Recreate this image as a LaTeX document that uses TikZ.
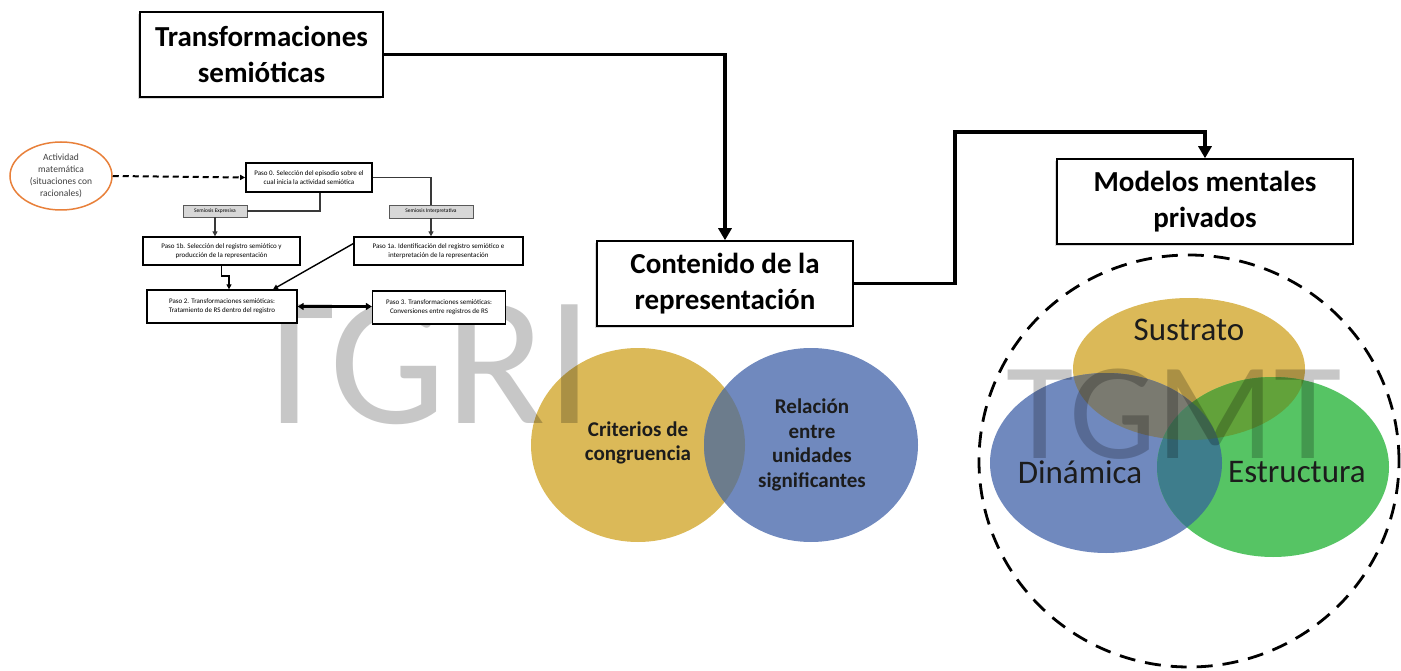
\documentclass[tikz,border=0pt]{standalone}
\usepackage{fontspec}
\setmainfont{Carlito}
\usetikzlibrary{arrows.meta,shapes.geometric,shadows}
\definecolor{lcyel}{RGB}{219,185,88}
\definecolor{lcblu}{RGB}{112,137,190}
\definecolor{lcgrn}{RGB}{86,196,100}
\definecolor{lcyb}{RGB}{108,124,140}
\definecolor{lcsd}{RGB}{122,122,112}
\definecolor{lcse}{RGB}{98,162,58}
\definecolor{lcde}{RGB}{62,125,140}
\definecolor{lcsde}{RGB}{78,128,96}
\definecolor{lcorange}{RGB}{232,128,58}
\definecolor{lcsemi}{RGB}{215,215,215}
\definecolor{lctext}{RGB}{28,28,28}
\newcommand\boxfont{\bfseries\fontsize{29pt}{36pt}\selectfont}
\newcommand\pasofont{\fontsize{7pt}{9pt}\selectfont}
\newcommand\semifont{\fontsize{5.5pt}{6pt}\selectfont}
\newcommand\actfont{\fontsize{9.5pt}{12pt}\selectfont}
\newcommand\venfont{\bfseries\fontsize{21pt}{24.5pt}\selectfont}
\newcommand\mmfont{\fontsize{33pt}{36pt}\selectfont}

\begin{document}
\begin{tikzpicture}[%
    x=1pt, y=-1pt,                        % pixel grid, top-down
    >={Triangle[length=12pt,width=13pt]}  % big arrow heads
    ]
\tikzset{
  base/.style={draw, align=center, inner sep=1pt},
  mbox/.style={base, fill=white, line width=1.5pt, minimum height=85pt,
    font=\boxfont, drop shadow={shadow xshift=-2pt, shadow yshift=-2pt, opacity=.3}},
  pbox/.style={base, fill=white, line width=1.3pt, font=\pasofont},
  sbox/.style={base, fill=lcsemi, draw=gray!70!black, line width=.7pt, font=\semifont},
  act/.style={ellipse, draw=lcorange, line width=1.5pt, fill=white, inner sep=0pt,
    minimum width=102pt, minimum height=68pt, align=center, font=\actfont, text=black!75},
  % -------------------------------------------------
  link/.style={draw, ->, line width=3.4pt},
  thin/.style={draw, gray!45!black, line width=1.1pt},
  small/.style={-{Triangle[length=5pt,width=5pt]}},
  venlbl/.style={align=center, font=\venfont, text=lctext},
  mmlbl/.style={font=\mmfont, text=lctext},
  wmark/.style={anchor=base west, inner sep=0pt, text=black, text opacity=.22}
}
\useasboundingbox (0,0) rectangle (1401,671);

% -------------------------------------------------
% Venn circles
\coordinate (ccrit) at (638,445);
\coordinate (crel)  at (811,445);
\fill[lcyel] (ccrit) ellipse [x radius=107pt, y radius=97pt];
\fill[lcblu] (crel)  ellipse [x radius=107pt, y radius=97pt];
\begin{scope}
  \clip (ccrit) ellipse [x radius=107pt, y radius=97pt];
  \fill[lcyb] (crel) ellipse [x radius=107pt, y radius=97pt];
\end{scope}

\coordinate (csus) at (1189,369);
\coordinate (cdin) at (1106,463);
\coordinate (cest) at (1273,467);
\fill[lcyel] (csus) ellipse [x radius=116pt, y radius=71pt];
\fill[lcblu] (cdin) ellipse [x radius=116pt, y radius=90pt];
\fill[lcgrn] (cest) ellipse [x radius=116pt, y radius=90pt];
\begin{scope}
  \clip (csus) ellipse [x radius=116pt, y radius=71pt];
  \fill[lcsd] (cdin) ellipse [x radius=116pt, y radius=90pt];
  \fill[lcse] (cest) ellipse [x radius=116pt, y radius=90pt];
\end{scope}
\begin{scope}
  \clip (cdin) ellipse [x radius=116pt, y radius=90pt];
  \fill[lcde] (cest) ellipse [x radius=116pt, y radius=90pt];
  \clip (csus) ellipse [x radius=116pt, y radius=71pt];
  \fill[lcsde] (cest) ellipse [x radius=116pt, y radius=90pt];
\end{scope}
\draw[line width=2.8pt, dash pattern=on 16pt off 10pt]
  (1189,461) ellipse [x radius=210pt, y radius=206pt];

% -------------------------------------------------
% Watermarks
\node[wmark, font=\fontsize{185pt}{185pt}\selectfont] (wgri) at (244,423) {TGRI};
\node[wmark, font=\fontsize{138pt}{138pt}\selectfont] (wgmt) at (1006,458) {TGMT};

\node[venlbl] (crit) at (638,443) {Criterios de\\congruencia};
\node[venlbl] (rel)  at (812,445) {Relación\\entre\\unidades\\significantes};
\node[mmlbl] (sus) at (1189,330) {Sustrato};
\node[mmlbl] (din) at (1080,472) {Dinámica};
\node[mmlbl] (est) at (1297,472) {Estructura};

% -------------------------------------------------
% Main boxes
\node[mbox, minimum width=243pt] (tsem) at (261.5,54.5) {Transformaciones\\semióticas};
\node[mbox, minimum width=256pt] (cont) at (725,283.5) {Contenido de la\\representación};
\node[mbox, minimum width=296pt] (mmp)  at (1205,201.5) {Modelos mentales\\privados};

\coordinate (bend) at (955,132);
\draw[link] (tsem.east) -| (cont.north);
\draw[link] (cont.east) -| (bend) -| (mmp.north);

% -------------------------------------------------
% Small flow chart on the left
\node[act] (act) at (61,176) {Actividad\\matemática\\(situaciones con\\racionales)};
\node[pbox, line width=1.7pt, minimum width=126pt, minimum height=29pt] (p0) at (309,177.5)
  {Paso 0. Selección del episodio sobre el\\cual inicia la actividad semiótica};
\node[sbox, minimum width=64pt, minimum height=12pt] (sexp) at (215,211) {Semiosis Expresiva};
\node[sbox, minimum width=84pt, minimum height=13pt] (sint) at (431,211.5) {Semiosis Interpretativa};
\node[pbox, minimum width=157pt, minimum height=28pt] (p1b) at (221.5,251)
  {Paso 1b. Selección del registro semiótico y\\producción de la representación};
\node[pbox, minimum width=169pt, minimum height=28pt] (p1a) at (438.5,251)
  {Paso 1a. Identificación del registro semiótico e\\interpretación de la representación};
\node[pbox, minimum width=150pt, minimum height=33pt] (p2) at (222,306.5)
  {Paso 2. Transformaciones semióticas:\\Tratamiento de RS dentro del registro};
\node[pbox, minimum width=133pt, minimum height=33pt] (p3) at (439,307.5)
  {Paso 3. Transformaciones semióticas:\\Conversiones entre registros de RS};

\coordinate (j1) at (320,211);
\coordinate (j2) at (229,276);
\coordinate (j3) at (273,0);
\draw[small, line width=2pt, dash pattern=on 6pt off 4pt] (act.east) -- (p0.west);
\draw[thin] (p0.south -| j1) |- (sexp.east);
\draw[thin] (p0.east) -| (sint.north);
\draw[thin, small] (sexp.south) -- (sexp.south |- p1b.north);
\draw[thin, small] (sint.south) -- (sint.south |- p1a.north);
\draw[small, line width=1.8pt] (p1b.south) |- (j2) -- (j2 |- p2.north);
\draw[small, line width=1.4pt] (p1a.175) -- (j3 |- p2.north);
\draw[line width=2.4pt, {Triangle[length=6pt,width=7pt]}-{Triangle[length=6pt,width=7pt]}]
  (p2.east) -- (p2.east -| p3.west);
\end{tikzpicture}
\end{document}
